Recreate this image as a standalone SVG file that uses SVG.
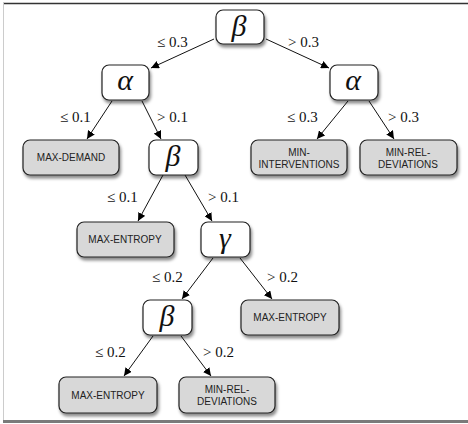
<svg xmlns="http://www.w3.org/2000/svg" width="468" height="424" viewBox="0 0 468 424">
<defs>
<filter id="sh" x="-20%" y="-20%" width="150%" height="160%">
<feDropShadow dx="1.5" dy="3" stdDeviation="1.8" flood-color="#000" flood-opacity="0.45"/>
</filter>
<marker id="ah" viewBox="0 0 10 10" refX="10" refY="5" markerWidth="8" markerHeight="8" markerUnits="userSpaceOnUse" orient="auto">
<path d="M0,0 L10,5 L0,10 z" fill="#000"/>
</marker>
<style>
.v{fill:#fff;stroke:#222;stroke-width:1.2;filter:url(#sh)}
.l{fill:#d8d8d8;stroke:#222;stroke-width:1.2;filter:url(#sh)}
.g{font-family:"Liberation Serif",serif;font-style:italic;font-size:30px;fill:#111;text-anchor:middle}
.t{font-family:"Liberation Sans",Arial,sans-serif;font-size:10px;fill:#222;text-anchor:middle}
.e{font-family:"Liberation Serif",serif;font-size:15px;fill:#111}
.c{stroke:#111;stroke-width:1;fill:none;marker-end:url(#ah)}
</style>
</defs>
<rect width="468" height="424" fill="#fff"/>
<line x1="3" y1="3.5" x2="468" y2="3.5" stroke="#333" stroke-width="1.5"/>
<line x1="3.5" y1="3" x2="3.5" y2="420" stroke="#ccc" stroke-width="1"/>
<line x1="3" y1="421.5" x2="468" y2="421.5" stroke="#7a7a7a" stroke-width="3"/>

<g id="connectors">
<line class="c" x1="214" y1="39" x2="151" y2="68"/>
<line class="c" x1="266" y1="39" x2="329" y2="68"/>
<line class="c" x1="112" y1="101" x2="87" y2="139"/>
<line class="c" x1="142" y1="101" x2="161" y2="139"/>
<line class="c" x1="348" y1="101" x2="317" y2="139"/>
<line class="c" x1="369" y1="101" x2="394" y2="139"/>
<line class="c" x1="163" y1="175" x2="138" y2="221"/>
<line class="c" x1="185" y1="175" x2="212" y2="221"/>
<line class="c" x1="213" y1="258" x2="182" y2="299"/>
<line class="c" x1="240" y1="258" x2="272" y2="299"/>
<line class="c" x1="153" y1="336" x2="124" y2="376"/>
<line class="c" x1="181" y1="336" x2="211" y2="376"/>
</g>

<g id="edge-labels">
<text class="e" x="157" y="47">≤ 0.3</text>
<text class="e" x="288" y="47">&gt; 0.3</text>
<text class="e" x="60" y="122">≤ 0.1</text>
<text class="e" x="157" y="122">&gt; 0.1</text>
<text class="e" x="287" y="122">≤ 0.3</text>
<text class="e" x="388" y="122">&gt; 0.3</text>
<text class="e" x="107" y="202">≤ 0.1</text>
<text class="e" x="208" y="202">&gt; 0.1</text>
<text class="e" x="152" y="282">≤ 0.2</text>
<text class="e" x="267" y="282">&gt; 0.2</text>
<text class="e" x="95" y="357">≤ 0.2</text>
<text class="e" x="203" y="357">&gt; 0.2</text>
</g>

<g id="n-root"><rect class="v" x="216" y="10" width="48" height="34" rx="7"/><text class="g" x="239" y="36">β</text></g>
<g id="n-alpha-left"><rect class="v" x="102" y="65" width="47" height="35" rx="7"/><text class="g" x="125" y="90">α</text></g>
<g id="n-alpha-right"><rect class="v" x="330" y="65" width="48" height="35" rx="7"/><text class="g" x="353" y="90">α</text></g>
<g id="n-max-demand"><rect class="l" x="23" y="140" width="96" height="35" rx="7"/><text class="t" x="71" y="161">MAX-DEMAND</text></g>
<g id="n-beta-mid"><rect class="v" x="149" y="140" width="49" height="35" rx="7"/><text class="g" x="173" y="166">β</text></g>
<g id="n-min-interventions"><rect class="l" x="251" y="140" width="96" height="35" rx="7"/><text class="t" x="299" y="156">MIN-</text><text class="t" x="299" y="168">INTERVENTIONS</text></g>
<g id="n-min-rel-dev-top"><rect class="l" x="360" y="140" width="97" height="35" rx="7"/><text class="t" x="408" y="156">MIN-REL-</text><text class="t" x="408" y="168">DEVIATIONS</text></g>
<g id="n-max-entropy-1"><rect class="l" x="77" y="222" width="97" height="35" rx="7"/><text class="t" x="125" y="243">MAX-ENTROPY</text></g>
<g id="n-gamma"><rect class="v" x="201" y="222" width="49" height="35" rx="7"/><text class="g" x="225" y="248">γ</text></g>
<g id="n-beta-low"><rect class="v" x="143" y="300" width="49" height="35" rx="7"/><text class="g" x="167" y="326">β</text></g>
<g id="n-max-entropy-2"><rect class="l" x="241" y="300" width="98" height="35" rx="7"/><text class="t" x="290" y="321">MAX-ENTROPY</text></g>
<g id="n-max-entropy-3"><rect class="l" x="59" y="377" width="98" height="36" rx="7"/><text class="t" x="108" y="399">MAX-ENTROPY</text></g>
<g id="n-min-rel-dev-bottom"><rect class="l" x="179" y="377" width="96" height="36" rx="7"/><text class="t" x="227" y="393">MIN-REL-</text><text class="t" x="227" y="405">DEVIATIONS</text></g>
</svg>
